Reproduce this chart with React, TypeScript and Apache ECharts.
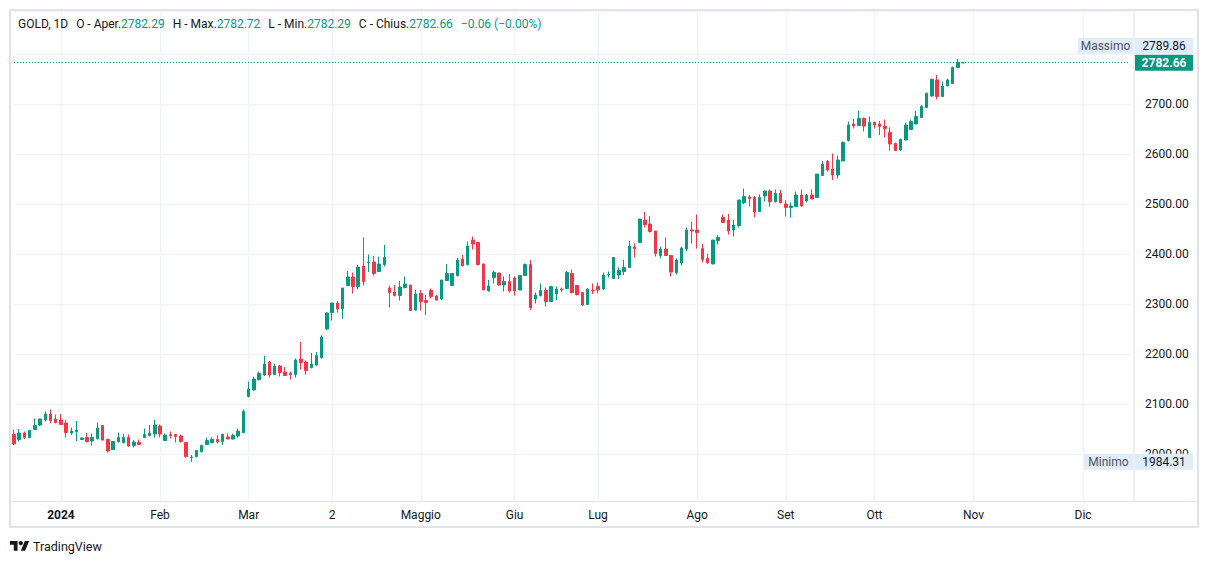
import React, { useEffect, useRef } from "react";
import * as echarts from "echarts";

// ---- data ----
const openV = [
  2039, 2029, 2042, 2033, 2049, 2058, 2068, 2080, 2070, 2068,
  2062, 2042, 2045, 2029, 2033, 2026, 2031, 2057, 2029, 2009,
  2025, 2023, 2033, 2017, 2023, 2033, 2037, 2040, 2056, 2027,
  2039, 2039, 2036, 2023, 1993, 1995, 2005, 2019, 2023, 2029,
  2025, 2034, 2030, 2036, 2043, 2115, 2128, 2149, 2158, 2184,
  2159, 2176, 2164, 2162, 2159, 2190, 2184, 2173, 2178, 2193,
  2250, 2283, 2302, 2291, 2337, 2354, 2335, 2376, 2383, 2384,
  2365, 2379, 2332, 2324, 2317, 2333, 2338, 2288, 2321, 2307,
  2327, 2316, 2310, 2347, 2337, 2357, 2390, 2379, 2428, 2423,
  2380, 2326, 2353, 2362, 2338, 2345, 2352, 2328, 2357, 2379,
  2310, 2317, 2327, 2305, 2320, 2330, 2331, 2361, 2337, 2323,
  2299, 2327, 2335, 2330, 2358, 2351, 2358, 2365, 2373, 2414,
  2423, 2468, 2460, 2446, 2397, 2410, 2397, 2363, 2382, 2410,
  2448, 2448, 2411, 2391, 2380, 2427, 2473, 2468, 2448, 2457,
  2503, 2514, 2513, 2485, 2516, 2526, 2505, 2521, 2500, 2493,
  2495, 2518, 2506, 2518, 2513, 2557, 2585, 2570, 2558, 2586,
  2627, 2660, 2657, 2671, 2633, 2663, 2660, 2655, 2643, 2621,
  2608, 2628, 2649, 2660, 2673, 2693, 2716, 2748, 2715, 2736,
  2741, 2773, 2782.29,
];
const closeV = [
  2020, 2042, 2033, 2047, 2057, 2070, 2080, 2067, 2063, 2059,
  2043, 2046, 2048, 2032, 2025, 2033, 2052, 2028, 2006, 2025,
  2033, 2033, 2016, 2024, 2019, 2039, 2042, 2058, 2040, 2038,
  2037, 2035, 2025, 1995, 1994, 2007, 2017, 2027, 2029, 2024,
  2039, 2030, 2037, 2046, 2085, 2130, 2150, 2161, 2180, 2158,
  2176, 2163, 2157, 2159, 2188, 2183, 2167, 2180, 2197, 2234,
  2282, 2302, 2290, 2332, 2354, 2335, 2374, 2345, 2384, 2361,
  2380, 2393, 2323, 2317, 2334, 2340, 2287, 2320, 2305, 2303,
  2315, 2308, 2348, 2361, 2361, 2388, 2377, 2416, 2420, 2379,
  2328, 2336, 2363, 2338, 2345, 2326, 2326, 2357, 2379, 2293,
  2318, 2327, 2305, 2335, 2330, 2328, 2363, 2323, 2319, 2298,
  2330, 2326, 2328, 2358, 2359, 2393, 2367, 2373, 2416, 2411,
  2470, 2459, 2445, 2401, 2410, 2397, 2364, 2388, 2412, 2448,
  2446, 2443, 2389, 2383, 2428, 2433, 2463, 2446, 2458, 2508,
  2515, 2511, 2484, 2513, 2526, 2505, 2521, 2503, 2493, 2496,
  2518, 2496, 2518, 2510, 2560, 2580, 2568, 2558, 2588, 2623,
  2658, 2656, 2671, 2656, 2663, 2658, 2655, 2651, 2620, 2607,
  2629, 2658, 2665, 2675, 2695, 2721, 2749, 2715, 2736, 2748,
  2773, 2782.72, 2782.66,
];
const lowV = [
  2018, 2025, 2030, 2032, 2048, 2056, 2065, 2061, 2061, 2058,
  2033, 2038, 2026, 2028, 2023, 2017, 2029, 2027, 2003, 2008,
  2023, 2021, 2015, 2013, 2018, 2033, 2035, 2033, 2033, 2027,
  2031, 2023, 2023, 1993, 1984.31, 1993, 2003, 2019, 2021, 2021,
  2018, 2030, 2029, 2033, 2041, 2113, 2127, 2147, 2156, 2153,
  2158, 2155, 2156, 2149, 2153, 2169, 2159, 2171, 2176, 2191,
  2248, 2267, 2283, 2270, 2336, 2321, 2329, 2337, 2364, 2357,
  2364, 2375, 2293, 2315, 2307, 2331, 2287, 2287, 2287, 2278,
  2311, 2307, 2308, 2347, 2337, 2355, 2375, 2377, 2409, 2377,
  2328, 2325, 2341, 2337, 2325, 2323, 2317, 2328, 2356, 2288,
  2301, 2315, 2296, 2304, 2308, 2325, 2330, 2321, 2317, 2296,
  2298, 2320, 2321, 2328, 2353, 2350, 2350, 2358, 2373, 2393,
  2423, 2453, 2443, 2395, 2391, 2396, 2355, 2359, 2377, 2406,
  2421, 2411, 2383, 2380, 2380, 2419, 2463, 2439, 2435, 2453,
  2500, 2495, 2473, 2485, 2505, 2495, 2503, 2501, 2475, 2473,
  2495, 2495, 2503, 2510, 2513, 2557, 2565, 2548, 2551, 2586,
  2625, 2651, 2657, 2645, 2633, 2651, 2638, 2633, 2607, 2607,
  2606, 2628, 2648, 2660, 2673, 2693, 2715, 2709, 2715, 2736,
  2740, 2773, 2782.29,
];
const highV = [
  2048, 2050, 2045, 2048, 2071, 2071, 2085, 2089, 2079, 2080,
  2068, 2053, 2066, 2033, 2042, 2041, 2063, 2058, 2031, 2026,
  2043, 2040, 2039, 2028, 2029, 2051, 2058, 2068, 2059, 2041,
  2045, 2040, 2039, 2023, 1998, 2008, 2019, 2033, 2033, 2037,
  2041, 2041, 2041, 2051, 2089, 2145, 2155, 2165, 2196, 2186,
  2181, 2178, 2174, 2165, 2191, 2224, 2187, 2202, 2204, 2237,
  2283, 2302, 2306, 2332, 2366, 2363, 2379, 2433, 2399, 2396,
  2395, 2418, 2337, 2338, 2346, 2355, 2338, 2328, 2328, 2318,
  2331, 2318, 2348, 2380, 2361, 2392, 2398, 2425, 2435, 2423,
  2381, 2348, 2367, 2362, 2355, 2360, 2355, 2357, 2381, 2388,
  2323, 2341, 2333, 2335, 2335, 2333, 2366, 2369, 2338, 2324,
  2331, 2341, 2343, 2363, 2365, 2393, 2373, 2388, 2426, 2421,
  2470, 2484, 2476, 2446, 2415, 2433, 2398, 2391, 2415, 2453,
  2464, 2479, 2420, 2400, 2428, 2438, 2479, 2480, 2468, 2508,
  2531, 2518, 2516, 2519, 2527, 2529, 2529, 2528, 2508, 2503,
  2525, 2529, 2520, 2529, 2560, 2586, 2588, 2601, 2597, 2625,
  2665, 2670, 2687, 2673, 2675, 2665, 2666, 2669, 2653, 2623,
  2631, 2663, 2669, 2686, 2698, 2723, 2751, 2758, 2745, 2751,
  2775, 2789.86, 2782.72,
];

// bar slots on the time scale (history + empty future space)
const SLOT_COUNT = 215;
const monthIdx = [9, 28, 45, 61, 78, 96, 112, 131, 148, 165, 184, 205];
const monthLabels = ["2024", "Feb", "Mar", "2", "Maggio", "Giu", "Lug", "Ago", "Set", "Ott", "Nov", "Dic"];

const SYMBOL = "GOLD, 1D";
const UP = "#089981";
const DOWN = "#f23645";
const TEXT = "#131722";
const GRID = "#f0f3fa";
const BORDER = "#e0e3eb";
const TAG_BG = "#e1ecfa";
const FONT = "Roboto, 'Noto Sans', sans-serif";

export default function App() {
  const ref = useRef<HTMLDivElement>(null);

  useEffect(() => {
    document.body.style.margin = "0";
    const chart = echarts.init(ref.current!, undefined, { renderer: "svg" });
    const n = openV.length;
    const data = openV.map((o, i) => [o, closeV[i], lowV[i], highV[i]]);
    const cats = Array.from({ length: SLOT_COUNT }, (_, i) => String(i));
    const lastClose = closeV[n - 1];
    const prevClose = closeV[n - 2];
    const maxHigh = Math.max(...highV);
    const minLow = Math.min(...lowV);
    const isMonth = (i: number) => monthIdx.indexOf(i) >= 0;
    // price-axis labels hidden behind the high / last-price tags (as on the reference)
    const hiddenTick = (v: number) => Math.abs(v - lastClose) < 30 || Math.abs(v - maxHigh) < 30;

    chart.setOption({
      animation: false,
      backgroundColor: "#ffffff",
      grid: { left: 14, top: 11, right: 79, height: 490, outerBoundsMode: "none" },
      xAxis: {
        type: "category",
        data: cats,
        boundaryGap: false,
        axisLine: { show: false },
        axisTick: { show: false },
        axisLabel: {
          interval: (i: number) => isMonth(i),
          formatter: (_v: string, i: number) => {
            const k = monthIdx.indexOf(i);
            if (k < 0) return "";
            return k === 0 ? "{b|" + monthLabels[k] + "}" : monthLabels[k];
          },
          color: TEXT,
          fontSize: 12,
          fontFamily: FONT,
          margin: 8,
          rich: { b: { fontWeight: "bold", fontSize: 12, fontFamily: FONT, color: TEXT } },
        },
        splitLine: { show: true, interval: (i: number) => isMonth(i), lineStyle: { color: GRID, width: 1 } },
      },
      yAxis: {
        type: "value",
        position: "right",
        min: 1906,
        max: 2886,
        splitNumber: 10,
        axisLine: { show: false },
        axisTick: { show: false },
        axisLabel: {
          formatter: (v: number) => (hiddenTick(v) ? "" : v.toFixed(2)),
          showMinLabel: false,
          showMaxLabel: false,
          color: TEXT,
          fontSize: 12,
          fontFamily: FONT,
          margin: 15,
        },
        splitLine: { show: true, lineStyle: { color: GRID, width: 1 } },
      },
      series: [
        {
          type: "candlestick",
          data,
          barWidth: 3,
          clip: false,
          itemStyle: { color: UP, color0: DOWN, borderColor: UP, borderColor0: DOWN, borderWidth: 1 },
          markLine: {
            silent: true,
            symbol: ["none", "none"],
            label: { show: false },
            lineStyle: { color: UP, type: [1, 2], width: 1 },
            data: [{ yAxis: lastClose }],
          },
        },
      ],
    });

    const yOf = (v: number) => chart.convertToPixel({ yAxisIndex: 0 }, v) as number;
    const yCur = yOf(lastClose);
    const yMaxTag = Math.min(yOf(maxHigh), yCur - 17);
    const yMinTag = yOf(minLow);
    const f2 = (v: number) => v.toFixed(2);
    const chg = lastClose - prevClose;
    const sign = chg < 0 ? "\u2212" : "+";
    const chgTxt = sign + Math.abs(chg).toFixed(2) + " (" + sign + ((Math.abs(chg) / prevClose) * 100).toFixed(2) + "%)";

    const tag = (label: string | null, value: string, yc: number, bg: string, fg: string, bold: boolean, labelX: number) => {
      const els: any[] = [];
      if (label) {
        els.push({ type: "rect", z: 100, shape: { x: labelX, y: yc - 8, width: 1133 - labelX, height: 16 }, style: { fill: TAG_BG } });
        els.push({
          type: "text", z: 101, x: (labelX + 1133) / 2, y: yc,
          style: { text: label, fill: "#50535e", font: "12px " + FONT, align: "center", verticalAlign: "middle" },
        });
      }
      els.push({ type: "rect", z: 100, shape: { x: 1135, y: yc - 8, width: 58, height: 16, r: 1 }, style: { fill: bg } });
      els.push({
        type: "text", z: 101, x: 1164, y: yc,
        style: { text: value, fill: fg, font: (bold ? "bold " : "") + "12px " + FONT, align: "center", verticalAlign: "middle" },
      });
      return els;
    };

    const header =
      "{d|" + SYMBOL + "}{s| }{d|O - Aper.}{g|" + f2(openV[n - 1]) + "}{s| }{d|H - Max.}{g|" + f2(highV[n - 1]) +
      "}{s| }{d|L - Min.}{g|" + f2(lowV[n - 1]) + "}{s| }{d|C - Chius.}{g|" + f2(lastClose) + "}{s| }{g|" + chgTxt + "}";

    chart.setOption({
      graphic: [
        // outer frame and pane separators
        { type: "rect", z: 90, silent: true, shape: { x: 10, y: 10, width: 1188, height: 517 }, style: { fill: "none", stroke: BORDER, lineWidth: 2 } },
        { type: "line", z: 90, silent: true, shape: { x1: 1134, y1: 10, x2: 1134, y2: 501 }, style: { stroke: BORDER, lineWidth: 1 } },
        { type: "line", z: 90, silent: true, shape: { x1: 10, y1: 501.5, x2: 1198, y2: 501.5 }, style: { stroke: BORDER, lineWidth: 1 } },
        // price tags
        ...tag("Massimo", f2(maxHigh), yMaxTag, TAG_BG, TEXT, false, 1078),
        ...tag(null, f2(lastClose), yCur, UP, "#ffffff", true, 1135),
        ...tag("Minimo", f2(minLow), yMinTag, TAG_BG, TEXT, false, 1084),
        // legend header
        {
          type: "text", z: 100, x: 18, y: 24,
          style: {
            text: header,
            verticalAlign: "middle",
            font: "12px " + FONT,
            rich: {
              d: { fill: TEXT, font: "12px " + FONT },
              g: { fill: UP, font: "12px " + FONT },
              s: { fill: TEXT, font: "12px " + FONT, width: 8 },
            },
          },
        },
        // TradingView logo + wordmark
        {
          type: "group", x: 10, y: 538.8, scaleX: 0.54, scaleY: 0.54, z: 100,
          children: [
            { type: "polygon", shape: { points: [[0, 4], [14, 4], [14, 22], [7, 22], [7, 11], [0, 11]] }, style: { fill: TEXT } },
            { type: "circle", shape: { cx: 20, cy: 8, r: 4 }, style: { fill: TEXT } },
            { type: "polygon", shape: { points: [[20, 22], [27.5, 4], [35.5, 4], [28, 22]] }, style: { fill: TEXT } },
          ],
        },
        {
          type: "text", z: 100, x: 33, y: 546,
          style: { text: "TradingView", fill: TEXT, font: "12.5px " + FONT, verticalAlign: "middle" },
        },
      ],
    });

    return () => chart.dispose();
  }, []);

  return <div ref={ref} style={{ width: 1209, height: 564 }} />;
}
